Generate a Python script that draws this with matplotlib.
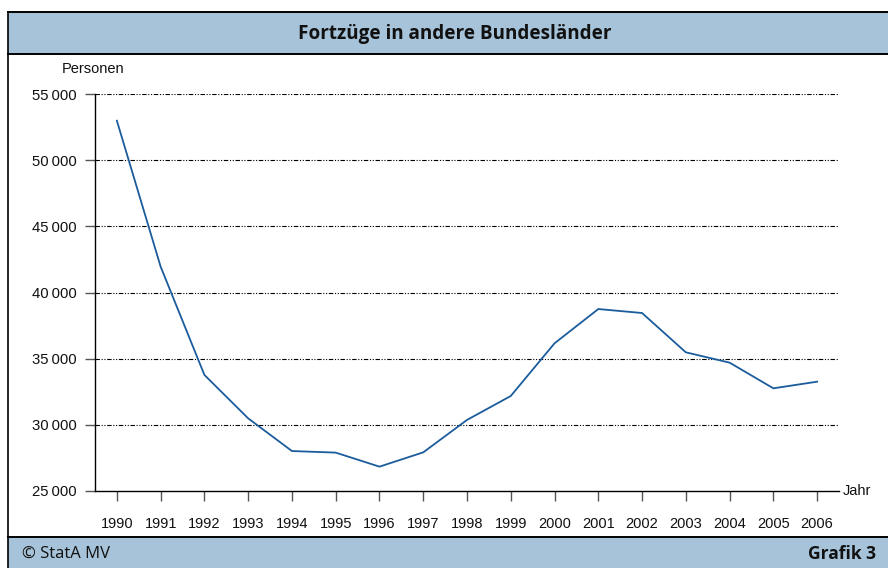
import matplotlib
matplotlib.use("Agg")
import matplotlib.pyplot as plt
from matplotlib.patches import Rectangle
from matplotlib.lines import Line2D

years = [1990, 1991, 1992, 1993, 1994, 1995, 1996, 1997, 1998,
         1999, 2000, 2001, 2002, 2003, 2004, 2005, 2006]
values = [52980, 41950, 33770, 30490, 28020, 27900, 26840, 27920, 30370,
          32180, 36160, 38750, 38450, 35480, 34700, 32760, 33260]
yticks = [25000, 30000, 35000, 40000, 45000, 50000, 55000]
ytick_labels = ["25\u2009000", "30\u2009000", "35\u2009000", "40\u2009000",
                "45\u2009000", "50\u2009000", "55\u2009000"]
title = "Fortzüge in andere Bundesländer"
ylabel = "Personen"
xlabel = "Jahr"
footer_left = "© StatA MV"
footer_right = "Grafik 3"

W, H = 888, 568
fig = plt.figure(figsize=(W / 100, H / 100), dpi=100)

def fx(x):
    return x / W

def fy(y):
    return 1 - y / H

BLUE_BG = "#a6c3d9"
LINE = "#1b5c9c"
sans = ["Liberation Sans", "DejaVu Sans"]
head = ["Open Sans", "DejaVu Sans"]

# Header band
fig.add_artist(Rectangle((fx(8), fy(54)), fx(W) - fx(8), fy(12) - fy(54),
                         transform=fig.transFigure, facecolor=BLUE_BG,
                         edgecolor="none", zorder=0))
# Footer band
fig.add_artist(Rectangle((fx(8), 0), fx(W) - fx(8), fy(537),
                         transform=fig.transFigure, facecolor=BLUE_BG,
                         edgecolor="none", zorder=0))
# Frame lines
for (x0, y0, x1, y1, lw) in [(8, 12, W, 12, 1.4), (8, 54, W, 54, 1.4),
                             (8, 537, W, 537, 1.4), (8, 12, 8, H, 1.2)]:
    fig.add_artist(Line2D([fx(x0), fx(x1)], [fy(y0), fy(y1)],
                          transform=fig.transFigure, color="black", lw=lw))

fig.text(fx(455), fy(34), title, ha="center", va="center", fontsize=13.6,
         fontweight="bold", family=head, color="#111111")
fig.text(fx(22), fy(554), footer_left, ha="left", va="center", fontsize=12,
         family=head, color="#111111")
fig.text(fx(876), fy(554), footer_right, ha="right", va="center", fontsize=12.5,
         fontweight="bold", family=head, color="#111111")

# Axes
ax = fig.add_axes([fx(95), fy(491), fx(839) - fx(95), fy(94) - fy(491)])
ax.set_xlim(1989.5, 2006.5)
ax.set_ylim(25000, 55000)

for v in yticks[1:]:
    ax.axhline(v, color="black", lw=0.8,
               linestyle=(0, (4, 1.5, 1, 1.5, 1, 1.5)), zorder=1)

ax.plot(years, values, color=LINE, lw=1.3, zorder=3, solid_joinstyle="miter")

ax.set_yticks(yticks)
ax.set_yticklabels(ytick_labels, family=sans, fontsize=10.7)
ax.set_xticks(years)
ax.set_xticklabels([str(y) for y in years], family=sans, fontsize=10.5)

for s in ["top", "right"]:
    ax.spines[s].set_visible(False)
for s in ["left", "bottom"]:
    ax.spines[s].set_color("black")
    ax.spines[s].set_linewidth(1.0)

ax.tick_params(axis="y", direction="out", length=7, width=1.0, color="#555555",
               pad=6, labelcolor="#111111")
ax.tick_params(axis="x", direction="out", length=7, width=1.0, color="#555555",
               pad=12, labelcolor="#111111")

fig.text(fx(62), fy(69), ylabel, ha="left", va="center", fontsize=10.5,
         family=sans, color="#111111")
fig.text(fx(843), fy(491), xlabel, ha="left", va="center", fontsize=10.5,
         family=sans, color="#111111")

fig.savefig("out.png", dpi=100)
